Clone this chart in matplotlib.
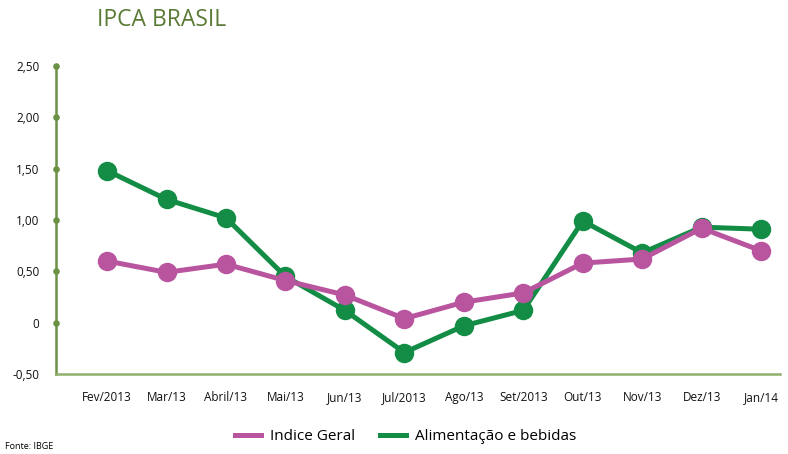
import numpy as np
import matplotlib.pyplot as plt
from matplotlib.lines import Line2D

plt.rcParams['font.family'] = ['Open Sans', 'DejaVu Sans']

meses = ["Fev/2013", "Mar/13", "Abril/13", "Mai/13", "Jun/13", "Jul/2013",
         "Ago/13", "Set/2013", "Out/13", "Nov/13", "Dez/13", "Jan/14"]
indice_geral = [0.60, 0.49, 0.57, 0.41, 0.27, 0.04, 0.20, 0.29, 0.58, 0.62, 0.92, 0.70]
alimentacao = [1.48, 1.20, 1.02, 0.45, 0.12, -0.29, -0.03, 0.12, 0.99, 0.68, 0.93, 0.91]
yticks = [-0.5, 0, 0.5, 1.0, 1.5, 2.0, 2.5]
ytick_labels = ["-0,50", "0", "0,50", "1,00", "1,50", "2,00", "2,50"]

magenta = "#b9549f"
verde = "#138d45"
verde_eixo = "#6b9244"

fig = plt.figure(figsize=(7.88, 4.54), dpi=100)
ax = fig.add_axes([0.071, 0.176, 0.919, 0.679])

x = np.arange(len(meses))
ax.plot(x, alimentacao, color=verde, lw=3.6, marker="o", ms=13,
        label="Alimentação e bebidas", zorder=3)
ax.plot(x, indice_geral, color=magenta, lw=3.6, marker="o", ms=13,
        label="Indice Geral", zorder=4)

ax.set_xlim(-0.86, 11.32)
ax.set_ylim(-0.5, 2.5)
ax.set_xticks(x)
ax.set_xticklabels(meses, fontsize=8.5, color="#111111")
ax.set_yticks(yticks)
ax.set_yticklabels(ytick_labels, fontsize=8.5, color="#111111")
ax.tick_params(axis="both", length=0)
ax.tick_params(axis="y", pad=12)
ax.tick_params(axis="x", pad=12)

for s in ["top", "right"]:
    ax.spines[s].set_visible(False)
ax.spines["left"].set_color(verde_eixo)
ax.spines["left"].set_linewidth(1.8)
ax.spines["bottom"].set_color("#8fb06a")
ax.spines["bottom"].set_linewidth(1.8)

# bolinhas no eixo y
ax.scatter([0] * (len(yticks) - 1), yticks[1:], transform=ax.get_yaxis_transform(),
           s=14, color=verde_eixo, clip_on=False, zorder=5)

fig.text(0.123, 0.955, "IPCA BRASIL", color="#5a7a35", fontsize=16.5, va="center")
fig.text(0.006, 0.006, "Fonte: IBGE", fontsize=6.5, va="bottom")

handles = [Line2D([], [], color=magenta, lw=3.6), Line2D([], [], color=verde, lw=3.6)]
fig.legend(handles, ["Indice Geral", "Alimentação e bebidas"], loc="center",
           bbox_to_anchor=(0.515, 0.038), ncol=2, frameon=False, fontsize=11,
           handlelength=1.7, columnspacing=1.6, handletextpad=0.6)

fig.savefig("out.png", dpi=100)
